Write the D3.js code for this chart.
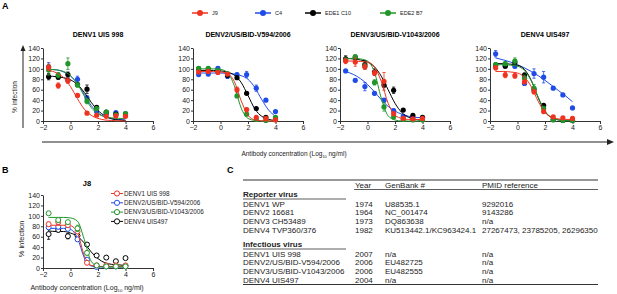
<!DOCTYPE html>
<html>
<head>
<meta charset="utf-8">
<script src="https://cdn.jsdelivr.net/npm/d3@7"></script>
<style>
  body { margin: 0; background: #fff; }
  svg { font-family: "Liberation Sans", Arial, sans-serif; }
</style>
</head>
<body>
<script>
// doses (log10 ng/ml), 5-fold dilutions
const doses = [-1.59, -0.89, -0.19, 0.51, 1.2, 1.9, 2.6, 3.3, 4.0];
const fitX = [-1.6, -1, -0.5, 0, 0.5, 1, 1.5, 2, 2.5, 3, 3.5, 4];
const xTicks = [-2, 0, 2, 4, 6];
const yTicks = [0, 20, 40, 60, 80, 100, 120, 140];

const antibodies = ["J9", "C4", "EDE1 C10", "EDE2 B7"];
const virusTitles = ["DENV1 UIS 998", "DENV2/US/BID-V594/2006", "DENV3/US/BID-V1043/2006", "DENV4 UIS497"];

// panel A values, rows = J9, C4, EDE1 C10, EDE2 B7
const denv1Points = [
  [103, 68, 77, 49, 15, 11, 9, 10, 9],
  [104, 87, 78, 80, 44, 18, 14, 16, 14],
  [85, 84, 89, 70, 61, 26, 17, 13, 12],
  [98, 88, 110, 69, 38, 24, 17, 12, 14]
];
const denv1Err = [
  [6, 5, 5, 3, 2, 0, 2, 2, 2],
  [8, 5, 4, 6, 5, 3, 2, 2, 2],
  [6, 4, 5, 4, 8, 3, 2, 2, 2],
  [10, 5, 11, 4, 5, 3, 2, 2, 2]
];
const denv1Fit = [
  [97, 92, 83, 66, 43, 23, 11, 5, 2, 1, 0.3, 0.1],
  [99, 98, 94, 86, 72, 51, 30, 16, 8, 5, 3, 2],
  [86, 85, 83, 79, 70, 55, 36, 20, 10, 4, 2, 1],
  [99, 98, 95, 87, 71, 48, 26, 14, 8, 6, 5, 5]
];

const denv2Points = [
  [94, 95, 93, 90, 60, 22, 7, 5, 2],
  [89, 90, 101, 86, 89, 89, 63, 40, 18],
  [100, 99, 96, 88, 83, 53, 24, 7, 3],
  [101, 101, 97, 91, 48, 13, 3, 1, 7]
];
const denv2Err = [
  [3, 3, 3, 2, 5, 3, 2, 1, 1],
  [3, 3, 3, 4, 3, 6, 6, 2, 2],
  [4, 3, 3, 5, 2, 2, 2, 1, 1],
  [3, 3, 2, 2, 3, 2, 1, 1, 2]
];
const denv2Fit = [
  [95, 95, 95, 94, 91, 76, 39, 11, 2, 0.4, 0.1, 0],
  [92, 92, 92, 92, 91, 90, 87, 80, 64, 41, 21, 9],
  [97, 97, 97, 96, 94, 88, 74, 49, 23, 9, 3, 1],
  [100, 100, 100, 99, 93, 68, 25, 5, 1, 0, 0, 0]
];

const denv3Points = [
  [115, 113, 104, 92, 76, 14, 5, 4, 5],
  [96, 78, 66, 53, 40, 20, 9, 7, 6],
  [119, 122, 108, 94, 69, 59, 21, 11, 7],
  [117, 123, 105, 74, 27, 8, 3, 2, 2]
];
const denv3Err = [
  [5, 8, 5, 5, 17, 3, 2, 2, 2],
  [2, 3, 8, 3, 3, 3, 2, 2, 2],
  [6, 4, 8, 6, 5, 6, 2, 2, 2],
  [4, 4, 5, 5, 8, 4, 1, 1, 1]
];
const denv3Fit = [
  [115, 115, 114, 113, 104, 76, 34, 11, 5, 3, 3, 3],
  [95, 89, 81, 70, 56, 41, 28, 19, 13, 9, 7, 6],
  [120, 119, 117, 113, 104, 86, 60, 34, 16, 7, 3, 1],
  [120, 120, 119, 115, 94, 44, 10, 2, 0, 0, 0, 0]
];

const denv4Points = [
  [102, 88, 87, 75, 56, 18, 8, 6, 5],
  [129, 107, 105, 72, 91, 84, 63, 50, 25],
  [107, 105, 112, 88, 60, 30, 3, 1, 1],
  [108, 110, 115, 82, 63, 24, 2, 1, 1]
];
const denv4Err = [
  [4, 5, 5, 3, 4, 3, 2, 2, 2],
  [6, 3, 4, 3, 9, 11, 2, 2, 2],
  [4, 3, 5, 4, 3, 2, 1, 1, 1],
  [4, 4, 6, 6, 7, 4, 1, 1, 1]
];
const denv4Fit = [
  [95, 95, 94, 92, 84, 66, 38, 16, 7, 4, 3, 3],
  [121, 117, 113, 108, 102, 95, 87, 78, 68, 58, 48, 37],
  [110, 110, 109, 107, 99, 78, 45, 18, 6, 2, 0.5, 0.1],
  [108, 108, 107, 105, 97, 77, 46, 19, 6, 2, 0.5, 0.1]
];

// panel B (J8), rows = DENV1..DENV4
const j8Viruses = ["DENV1 UIS 998", "DENV2/US/BID-V594/2006", "DENV3/US/BID-V1043/2006", "DENV4 UIS497"];
const j8Points = [
  [84, 88, 82, 70, 10, 5, 5, 5, 5],
  [78, 79, 75, 55, 16, 2, 3, 3, 4],
  [105, 92, 88, 76, 29, 5, 3, 3, 3],
  [65, 73, 61, 62, 45, 24, 20, 13, 19]
];
const j8Err = [
  [4, 4, 3, 3, 2, 1, 1, 1, 1],
  [4, 4, 3, 3, 2, 1, 1, 1, 1],
  [3, 4, 3, 6, 4, 1, 1, 1, 1],
  [10, 4, 5, 3, 3, 2, 2, 2, 2]
];
const j8Fit = [
  [82, 82, 82, 81, 68, 24, 5, 3, 3, 3, 3, 3],
  [76, 76, 76, 74, 58, 20, 4, 2, 2, 2, 2, 2],
  [97, 97, 97, 96, 90, 55, 13, 3, 2, 2, 2, 2],
  [71, 70, 70, 67, 61, 48, 31, 18, 10, 7, 6, 5]
];

// panel C table
const tableHeader = ["Year", "GenBank #", "PMID reference"];
const reporterRows = [
  ["DENV1 WP", "1974", "U88535.1", "9292016"],
  ["DENV2 16681", "1964", "NC_001474", "9143286"],
  ["DENV3 CH53489", "1973", "DQ863638", "n/a"],
  ["DENV4 TVP360/376", "1982", "KU513442.1/KC963424.1", "27267473, 23785205, 26296350"]
];
const infectiousRows = [
  ["DENV1  UIS 998", "2007", "n/a", "n/a"],
  ["DENV2/US/BID-V594/2006", "2006", "EU482725", "n/a"],
  ["DENV3/US/BID-V1043/2006", "2006", "EU482555", "n/a"],
  ["DENV4 UIS497", "2004", "n/a", "n/a"]
];

const abColors = ["#ef3320", "#1f4ce8", "#000000", "#20962a"];
const j8Colors = ["#ef3320", "#1f4ce8", "#20962a", "#000000"];

const svg = d3.select("body").append("svg")
  .attr("width", 617)
  .attr("height", 294);

const line = d3.line().curve(d3.curveMonotoneX);

function drawPlot(left, top, pts, errs, fits, colors, open, order) {
  const x = d3.scaleLinear().domain([-2, 6]).range([left, left + 110]);
  const y = d3.scaleLinear().domain([0, 140]).range([top + 73, top]);
  const g = svg.append("g");

  g.append("g")
    .attr("transform", "translate(0," + (top + 73) + ")")
    .call(d3.axisBottom(x).tickValues(xTicks).tickSize(3).tickSizeOuter(0).tickPadding(1))
    .call(a => a.selectAll("text").attr("font-size", 7).attr("fill", "#222"));
  g.append("g")
    .attr("transform", "translate(" + left + ",0)")
    .call(d3.axisLeft(y).tickValues(yTicks).tickSize(2).tickSizeOuter(0).tickPadding(1))
    .call(a => a.selectAll("text").attr("font-size", 7).attr("fill", "#222"));
  g.selectAll(".domain").attr("stroke", "#333").attr("stroke-width", 1);
  g.selectAll(".tick line").attr("stroke", "#333");

  order.forEach(s => {
    const c = colors[s];
    const sg = g.append("g");
    sg.append("path")
      .attr("d", line(fitX.map((v, i) => [x(v), y(fits[s][i])])))
      .attr("fill", "none")
      .attr("stroke", c)
      .attr("stroke-width", 1);
    const p = sg.selectAll(".pt")
      .data(doses.map((d, i) => ({ d: d, v: pts[s][i], e: errs[s][i] })))
      .enter().append("g");
    p.filter(d => d.e > 0).append("path")
      .attr("d", d => {
        const cx = x(d.d), y1 = y(d.v - d.e), y2 = y(d.v + d.e);
        return "M" + cx + "," + y1 + "V" + y2 + "M" + (cx - 1.6) + "," + y2 + "H" + (cx + 1.6) +
          "M" + (cx - 1.6) + "," + y1 + "H" + (cx + 1.6);
      })
      .attr("stroke", c)
      .attr("stroke-width", 0.8)
      .attr("fill", "none");
    p.append("circle")
      .attr("cx", d => x(d.d))
      .attr("cy", d => y(d.v))
      .attr("r", open ? 2.5 : 2.6)
      .attr("fill", open ? "#fff" : c)
      .attr("stroke", c)
      .attr("stroke-width", open ? 1 : 0);
  });
}

// ---- Panel A ----
svg.append("text").attr("x", 2).attr("y", 9).attr("font-size", 9).attr("font-weight", "bold").text("A");

const legendX = [200, 263, 313, 388];
antibodies.forEach((name, i) => {
  const lg = svg.append("g").attr("transform", "translate(" + legendX[i] + ",13)");
  lg.append("line").attr("x1", -8).attr("x2", 8).attr("stroke", abColors[i]).attr("stroke-width", 1.5);
  lg.append("circle").attr("r", 3).attr("fill", abColors[i]);
  lg.append("text").attr("x", 12).attr("y", 2).attr("font-size", 5.5).attr("fill", "#222").text(name);
});

const panelA = [
  [denv1Points, denv1Err, denv1Fit],
  [denv2Points, denv2Err, denv2Fit],
  [denv3Points, denv3Err, denv3Fit],
  [denv4Points, denv4Err, denv4Fit]
];
const panelLeft = [43, 193, 340, 490];
panelA.forEach((p, i) => {
  svg.append("text")
    .attr("x", panelLeft[i] + 55)
    .attr("y", 37)
    .attr("text-anchor", "middle")
    .attr("font-size", 7)
    .attr("font-weight", "bold")
    .text(virusTitles[i]);
  drawPlot(panelLeft[i], 48, p[0], p[1], p[2], abColors, false, [1, 2, 3, 0]);
});

// big axis arrows
svg.append("line").attr("x1", 23).attr("x2", 23).attr("y1", 128).attr("y2", 50)
  .attr("stroke", "#222").attr("stroke-width", 1);
svg.append("path").attr("d", "M23,45L20.5,51L25.5,51Z").attr("fill", "#222");
svg.append("text")
  .attr("transform", "translate(17,97) rotate(-90)")
  .attr("text-anchor", "middle")
  .attr("font-size", 6.5)
  .attr("fill", "#222")
  .text("% infection");

svg.append("line").attr("x1", 42).attr("x2", 608).attr("y1", 142).attr("y2", 142)
  .attr("stroke", "#222").attr("stroke-width", 1.2);
svg.append("path").attr("d", "M614,142L607,139L607,145Z").attr("fill", "#222");

function concLabel(xc, yc, size) {
  const t = svg.append("text")
    .attr("x", xc).attr("y", yc)
    .attr("text-anchor", "middle")
    .attr("font-size", size)
    .attr("fill", "#222");
  t.append("tspan").text("Antibody concentration (Log");
  t.append("tspan").attr("font-size", size * 0.6).attr("dy", 1.5).text("10");
  t.append("tspan").attr("dy", -1.5).text(" ng/ml)");
}
concLabel(294, 156, 6.5);

// ---- Panel B ----
svg.append("text").attr("x", 2).attr("y", 173).attr("font-size", 9).attr("font-weight", "bold").text("B");
svg.append("text").attr("x", 87).attr("y", 186).attr("text-anchor", "middle")
  .attr("font-size", 7.5).attr("font-weight", "bold").text("J8");
drawPlot(43, 195, j8Points, j8Err, j8Fit, j8Colors, true, [3, 1, 0, 2]);
svg.append("text")
  .attr("transform", "translate(24,239) rotate(-90)")
  .attr("text-anchor", "middle")
  .attr("font-size", 7.5)
  .attr("fill", "#222")
  .text("% infection");
concLabel(87, 290, 7);

j8Viruses.forEach((name, i) => {
  const lg = svg.append("g").attr("transform", "translate(117," + (193.5 + i * 9.3) + ")");
  lg.append("line").attr("x1", -6).attr("x2", 6).attr("stroke", j8Colors[i]).attr("stroke-width", 1);
  lg.append("circle").attr("r", 2.6).attr("fill", "#fff").attr("stroke", j8Colors[i]).attr("stroke-width", 1);
  lg.append("text").attr("x", 7).attr("y", 2.2).attr("font-size", 6.3).attr("fill", "#222").text(name);
});

// ---- Panel C ----
svg.append("text").attr("x", 227).attr("y", 173).attr("font-size", 9).attr("font-weight", "bold").text("C");
const colX = [243, 355, 385, 482];
const tg = svg.append("g").attr("font-size", 8).attr("fill", "#222");
tg.append("line").attr("x1", 243).attr("x2", 598).attr("y1", 180).attr("y2", 180).attr("stroke", "#333").attr("stroke-width", 1.2);
tableHeader.forEach((h, i) => {
  tg.append("text").attr("x", colX[i + 1]).attr("y", 188).text(h);
});
tg.append("line").attr("x1", 354).attr("x2", 598).attr("y1", 189.5).attr("y2", 189.5).attr("stroke", "#333").attr("stroke-width", 0.8);

function section(title, rows, yTitle) {
  tg.append("text").attr("x", 243).attr("y", yTitle).attr("font-weight", "bold").text(title);
  tg.append("line").attr("x1", 243).attr("x2", 346).attr("y1", yTitle + 2.5).attr("y2", yTitle + 2.5)
    .attr("stroke", "#333").attr("stroke-width", 0.8);
  rows.forEach((r, j) => {
    r.forEach((cell, k) => {
      tg.append("text").attr("x", colX[k]).attr("y", yTitle + 10 + j * 8.8).text(cell);
    });
  });
}
section("Reporter virus", reporterRows, 196.5);
section("Infectious virus", infectiousRows, 246.5);
tg.append("line").attr("x1", 243).attr("x2", 598).attr("y1", 284.5).attr("y2", 284.5).attr("stroke", "#333").attr("stroke-width", 1.2);
</script>
</body>
</html>
